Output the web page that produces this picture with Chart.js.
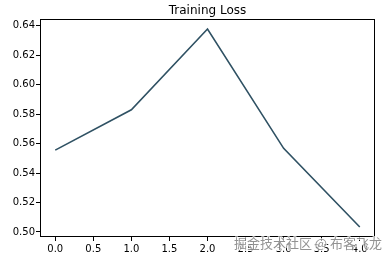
<!DOCTYPE html>
<html>
<head>
<meta charset="utf-8">
<script src="https://cdn.jsdelivr.net/npm/chart.js@4/dist/chart.umd.min.js"></script>
<style>
  html, body { margin: 0; padding: 0; background: #fff; }
  #wrap { width: 391px; height: 259px; }
</style>
</head>
<body>
<div id="wrap"><canvas id="lossChart" width="391" height="259"></canvas></div>
<script>
const epochs = [0, 1, 2, 3, 4];
const lossValues = [0.5556, 0.583, 0.6378, 0.5568, 0.5034];
const xTicks = [0.0, 0.5, 1.0, 1.5, 2.0, 2.5, 3.0, 3.5, 4.0];
const yTicks = [0.50, 0.52, 0.54, 0.56, 0.58, 0.60, 0.62, 0.64];
const chartTitle = 'Training Loss';
const watermark = '掘金技术社区 @ 布客飞龙';

document.addEventListener('DOMContentLoaded', function () {
    // frame around the plot area, like matplotlib's spines,
    // and the title centred over the plot area (not the whole canvas)
    const framePlugin = {
        id: 'frame',
        afterDatasetsDraw(chart) {
            const a = chart.chartArea;
            const ctx = chart.ctx;
            ctx.save();
            ctx.strokeStyle = '#000';
            ctx.lineWidth = 1;
            ctx.strokeRect(Math.round(a.left) + 0.5, Math.round(a.top) + 0.5,
                Math.round(a.right - a.left) - 1, Math.round(a.bottom - a.top) - 1);
            ctx.fillStyle = '#000';
            ctx.font = '12px "DejaVu Sans"';
            ctx.textAlign = 'center';
            ctx.textBaseline = 'alphabetic';
            ctx.fillText(chartTitle, (a.left + a.right) / 2, 13.5);
            ctx.restore();
        }
    };

    // site watermark in the lower right corner
    const markPlugin = {
        id: 'mark',
        afterDraw(chart) {
            const ctx = chart.ctx;
            ctx.save();
            ctx.font = '13px "Noto Sans CJK SC"';
            ctx.textAlign = 'right';
            ctx.textBaseline = 'middle';
            ctx.lineWidth = 2;
            ctx.strokeStyle = 'rgba(255,255,255,0.7)';
            ctx.strokeText(watermark, 382, 243);
            ctx.fillStyle = 'rgba(110,110,110,0.75)';
            ctx.fillText(watermark, 382, 243);
            ctx.restore();
        }
    };

    const ctx1 = document.getElementById('lossChart').getContext('2d');
    new Chart(ctx1, {
        type: 'line',
        data: {
            datasets: [
                {
                    label: 'loss',
                    data: epochs.map((e, i) => ({ x: e, y: lossValues[i] })),
                    borderColor: '#2f5163',
                    borderWidth: 1.6,
                    pointRadius: 0,
                    tension: 0,
                    fill: false
                }
            ]
        },
        options: {
            responsive: false,
            animation: false,
            layout: { padding: { left: 0, right: 16, top: 19, bottom: 0 } },
            plugins: {
                legend: { display: false },
                tooltip: { enabled: false },
                title: { display: false }
            },
            scales: {
                x: {
                    type: 'linear',
                    min: -0.2,
                    max: 4.2,
                    afterBuildTicks: axis => { axis.ticks = xTicks.map(v => ({ value: v })); },
                    afterFit: axis => { axis.height = 22; },
                    grid: { drawOnChartArea: false, drawTicks: true, tickLength: 4, tickColor: '#000' },
                    border: { display: false },
                    ticks: {
                        color: '#000',
                        padding: 2,
                        maxRotation: 0,
                        font: { family: 'DejaVu Sans', size: 10 },
                        callback: v => v.toFixed(1)
                    }
                },
                y: {
                    type: 'linear',
                    min: 0.4966,
                    max: 0.6446,
                    afterBuildTicks: axis => { axis.ticks = yTicks.map(v => ({ value: v })); },
                    afterFit: axis => { axis.width = 40; },
                    grid: { drawOnChartArea: false, drawTicks: true, tickLength: 4, tickColor: '#000' },
                    border: { display: false },
                    ticks: {
                        color: '#000',
                        padding: 1,
                        font: { family: 'DejaVu Sans', size: 10 },
                        callback: v => v.toFixed(2)
                    }
                }
            }
        },
        plugins: [framePlugin, markPlugin]
    });
});
</script>
</body>
</html>
